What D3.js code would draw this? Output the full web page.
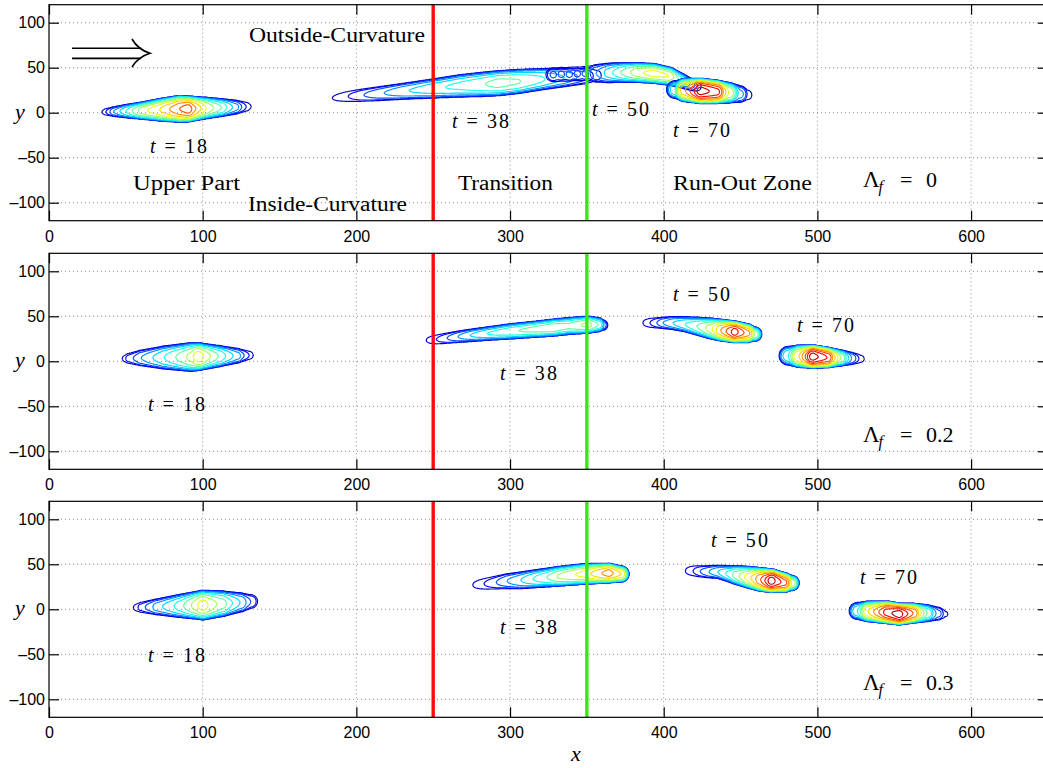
<!DOCTYPE html>
<html><head><meta charset="utf-8">
<script src="https://cdn.jsdelivr.net/npm/d3@7"></script>
<style>body{margin:0;background:#fff} svg{display:block}</style>
</head><body>
<svg id="chart" width="1043" height="768"></svg>
<script>
// ---------- data ----------
const xDomain = [0, 650];
const yDomain = [-120, 120];
const xTickValues = [0, 100, 200, 300, 400, 500, 600];
const yTickValues = [-100, -50, 0, 50, 100];
const sectionLines = [250, 350];
const sectionColors = ["#ff0a0a", "#3ae614"];
const lambdaValues = ["0", "0.2", "0.3"];
const contourLevels = [1,2,3,4,5,6,7,8,9,10,11,12,13,14];
const levelMax = 15;

// blob spines: [x, y, half-width (y units), amplitude]
const p1t18 = [[33,1,2.5,0.5],[37,1.2,4,2],[42,1.5,5.5,4],[50,2,7.5,6],[60,2.5,9.5,8.5],[72,3.5,12.5,10],[85,4.5,15,12],[90,4.5,14.5,12.6],[102,5.5,12,9],[112,6,10,7],[121,6.5,8,4.5],[128,7,5.5,2],[133,7,3,0.5]];
const p1t38 = [[179,15.5,4,0.5],[192.6,18,6,1.8],[202.3,19.5,7,2.8],[215,21.5,8,3.8],[230,24,9,4.8],[252,27.5,11,5.8],[267,30,12.5,6.3],[280,31.5,13.5,6.8],[292,33,14,7.4],[305,35,13.5,7.1],[320,37.5,12,6.2],[335,39.5,10.5,5],[348,41,9,3.5],[356,42,7,1.5],[360,42,5,0.3]];
const p1t50 = [[322,42,5,0.4],[328,42.5,8,3.3],[330.6,42.5,8,2.7],[333.2,43,8,3.3],[335.8,43,8,2.7],[338.4,43,8,3.3],[341,43.5,8,2.7],[343.6,43.5,8,3.3],[346.2,43.5,8,2.7],[348.8,44,8,3.3],[351.4,44,8.5,2.7],[356,44,10,4],[364,44.5,11,5.5],[372,45,11,7],[382,45,11,8.6],[393,44,11,9.5],[403,41,10,9],[411,36,8,6.5],[418,31,6.5,3.5],[424,28,5,1],[426,27,3,0.2]];
const p1t70 = [[407.5,26,10,6],[414,25.5,13,11],[424,24.5,14,14.6],[434,23.5,13,13.5],[442,22.5,11.5,9],[449,21,9.5,4.5],[454,20,7,1.5]];

const p2t18 = [[46,3,3,0.5],[52,3.5,6,2.5],[60,4,9,4],[75,4.5,13,6],[92,5,16,8.3],[97,5.5,15.5,9.6],[110,6,12,7],[122,6.5,8.5,4.5],[130,7,5,2],[134,7,3,0.5]];
const p2t38 = [[242,23,4.5,0.5],[252,24.5,5.5,2],[259,26,6,3],[266,27.5,6.5,4],[274,29,7,5],[285,31,7.5,6],[300,33.5,8.5,6.8],[317,36,9,7.4],[327,37.5,9.5,7.8],[338,39.5,9.5,7.3],[351,41,9.5,8.4],[357,41,8,7],[360,40.5,6,4]];
const p2t50 = [[384,43,4.5,0.5],[391,43,5.5,2],[395.5,43,6,3],[399.5,43,6.5,4],[406,42.8,7.5,5],[414,41.5,8.5,6],[421.6,39.5,10,7],[430,37,11.5,8.5],[437,35,12,11],[446,33,12,13.6],[454,31.5,10.5,11.5],[459,30.5,8,8]];
const p2t70 = [[481,6.5,10.5,6],[488,6,12.5,10],[497,5.5,13,14.6],[506,4.5,11.5,13],[515,4,9,8],[522,3.5,7,4],[528,3,5,1.5]];

const p3t18 = [[53,2,3.5,0.5],[60,2.5,6,2.5],[70,3,9,4.5],[85,4,13,6.5],[100,5,16.5,9.5],[112,6.5,14.5,7.5],[124,8,11,5],[131,9,8,3],[135,9.5,5,1]];
const p3t38 = [[272,26.5,5,0.5],[283,28.5,6.5,2],[291,30,7.5,3],[298,31.5,8.5,4],[307,32.5,9.5,5],[315,34,10,6],[324,35.5,10.5,7],[332,37,11,8.2],[348,39.5,11.5,9.4],[364,40.5,11,11.6],[372,39.5,9,10]];
const p3t50 = [[411.5,43,5,0.5],[419,43,6,2],[423.6,42.5,6.5,3],[429.4,42,7,4],[435.2,42,7.5,5],[442,40,9,6.3],[447,38.5,10.5,7.5],[455,36,12,9.5],[463,33.5,13,12],[470,32,13,14.6],[478,30,11,12.5],[483,29.5,8.5,9]];
const p3t70 = [[526,-1.5,9.5,6],[533,-2,11.5,10],[545,-3,12.5,13.5],[553,-5,12,14.7],[562,-4,11,12],[571,-4,9.5,7],[578,-4.5,7.5,3.5],[583,-5,5,1.2]];

const panelBlobs = [[p1t18,p1t38,p1t50,p1t70],[p2t18,p2t38,p2t50,p2t70],[p3t18,p3t38,p3t50,p3t70]];

// time labels: [value, x, y] (left, baseline)
const timeLabels = [
  [["18",65.7,-44.8],["38",262.2,-17],["50",353.3,-3.7],["70",406,-27]],
  [["18",64.4,-55.6],["38",293.4,-21.1],["50",406,66.7],["70",486.7,32.8]],
  [["18",64.4,-58],["38",293.4,-27.8],["50",430.7,68.9],["70",527.7,27.8]]
];
// region labels (panel 1): [text, x, y, width px]
const regionLabels = [
  ["Outside-Curvature",130.1,78.6,176],
  ["Upper Part",54.7,-85.9,107],
  ["Inside-Curvature",129.5,-108.9,159],
  ["Transition",266.1,-85.9,95],
  ["Run-Out Zone",406,-85.9,139]
];
const lambdaLabelPos = [[529.6,-82.6],[529.6,-90],[529.6,-90]];

// ---------- layout ----------
const svg = d3.select("#chart");
const panelTops = [4.7, 253.3, 501.3];
const panelH = 216;
const x = d3.scaleLinear().domain(xDomain).range([49, 49 + 650*1.5368]);
const P = 0.45;

function jet(t){
  const c = v => Math.max(0, Math.min(1, v));
  const r = c(1.5 - Math.abs(4*t - 3)), g = c(1.5 - Math.abs(4*t - 2)), b = c(1.5 - Math.abs(4*t - 1));
  return d3.rgb(r*255, g*255, b*255).formatHex();
}

function blobContours(nodes, y){
  const ky = Math.abs(y(1) - y(0));
  const pts = nodes.map(n => ({X: x(n[0]), Y: y(n[1]), w: n[2]*ky, a: n[3]}));
  const pad = 3, step = 0.5;
  const x0 = d3.min(pts, p => p.X - p.w) - pad, x1 = d3.max(pts, p => p.X + p.w) + pad;
  const y0 = d3.min(pts, p => p.Y - p.w) - pad, y1 = d3.max(pts, p => p.Y + p.w) + pad;
  const nx = Math.ceil((x1 - x0)/step), ny = Math.ceil((y1 - y0)/step);
  const vals = new Float64Array(nx*ny);
  for (let j = 0; j < ny; j++){
    const Y = y0 + j*step;
    for (let i = 0; i < nx; i++){
      const X = x0 + i*step;
      let v = 0;
      for (let s = 0; s < pts.length - 1; s++){
        const A = pts[s], B = pts[s+1];
        const dx = B.X - A.X, dy = B.Y - A.Y, L2 = dx*dx + dy*dy;
        let t = L2 > 0 ? ((X - A.X)*dx + (Y - A.Y)*dy)/L2 : 0;
        t = t < 0 ? 0 : (t > 1 ? 1 : t);
        const qx = A.X + t*dx - X, qy = A.Y + t*dy - Y;
        const w = A.w + t*(B.w - A.w), a = A.a + t*(B.a - A.a);
        const r = (qx*qx + qy*qy)/(w*w);
        if (r < 1){ const val = a*Math.pow(1 - r, P); if (val > v) v = val; }
      }
      vals[j*nx + i] = v;
    }
  }
  const cs = d3.contours().size([nx, ny]).thresholds(contourLevels)(vals);
  const path = d3.geoPath(d3.geoTransform({point(px, py){ this.stream.point(x0 + px*step, y0 + py*step); }}));
  return cs.filter(c => c.coordinates.length).map(c => ({d: path(c), level: c.value}));
}

const serif = "'Liberation Serif', 'Times New Roman', serif";
const sans = "'Liberation Sans', Arial, sans-serif";

panelTops.forEach((top, pi) => {
  const y = d3.scaleLinear().domain(yDomain).range([top + panelH, top]);
  const g = svg.append("g");
  const x0 = x(xDomain[0]), x1 = x(xDomain[1]);
  const clipId = "clip" + pi;
  g.append("clipPath").attr("id", clipId).append("rect")
    .attr("x", x0).attr("y", top).attr("width", x1 - x0).attr("height", panelH);

  // grid
  g.append("g").selectAll("line").data(xTickValues.filter(v => v > xDomain[0])).join("line")
    .attr("x1", d => x(d)).attr("x2", d => x(d)).attr("y1", top).attr("y2", top + panelH)
    .attr("stroke", "#8a8a8a").attr("stroke-width", 1).attr("stroke-dasharray", "1,3");
  g.append("g").selectAll("line").data(yTickValues).join("line")
    .attr("x1", x0).attr("x2", x1).attr("y1", d => y(d)).attr("y2", d => y(d))
    .attr("stroke", "#8a8a8a").attr("stroke-width", 1).attr("stroke-dasharray", "1,3");

  // contours
  const cg = g.append("g").attr("clip-path", `url(#${clipId})`);
  panelBlobs[pi].forEach(nodes => {
    cg.append("g").selectAll("path").data(blobContours(nodes, y)).join("path")
      .attr("d", d => d.d).attr("fill", "none")
      .attr("stroke", d => jet(d.level/levelMax)).attr("stroke-width", 1.15);
  });

  // section lines
  g.append("g").selectAll("line").data(sectionLines).join("line")
    .attr("x1", d => x(d)).attr("x2", d => x(d)).attr("y1", top).attr("y2", top + panelH)
    .attr("stroke", (d, i) => sectionColors[i]).attr("stroke-width", 3.4);

  // frame
  g.append("rect").attr("x", x0).attr("y", top).attr("width", x1 - x0).attr("height", panelH)
    .attr("fill", "none").attr("stroke", "#000").attr("stroke-width", 1.2);

  // axes (inward ticks on all sides)
  const tk = 10;
  g.append("g").attr("transform", `translate(0,${top + panelH})`)
    .call(d3.axisBottom(x).tickValues(xTickValues).tickSizeInner(-tk).tickSizeOuter(0).tickPadding(9.5))
    .call(a => a.select(".domain").remove())
    .call(a => a.selectAll("text").attr("font-family", sans).attr("font-size", 16).attr("fill", "#000"));
  g.append("g").attr("transform", `translate(0,${top})`)
    .call(d3.axisTop(x).tickValues(xTickValues).tickSizeInner(-tk).tickSizeOuter(0).tickFormat(""))
    .call(a => a.select(".domain").remove());
  g.append("g").attr("transform", `translate(${x0},0)`)
    .call(d3.axisLeft(y).tickValues(yTickValues).tickSizeInner(-tk).tickSizeOuter(0).tickPadding(4)
      .tickFormat(d => (d < 0 ? "\u2013" + Math.abs(d) : String(d))))
    .call(a => a.select(".domain").remove())
    .call(a => a.selectAll("text").attr("font-family", sans).attr("font-size", 16).attr("fill", "#000"));
  g.append("g").attr("transform", `translate(${x1},0)`)
    .call(d3.axisRight(y).tickValues(yTickValues).tickSizeInner(-tk).tickSizeOuter(0).tickFormat(""))
    .call(a => a.select(".domain").remove());
  g.selectAll(".tick line").attr("stroke", "#000").attr("stroke-width", 1.2);

  // y label
  g.append("text").attr("x", 20).attr("y", y(0) + 6).attr("text-anchor", "middle")
    .attr("font-family", serif).attr("font-style", "italic").attr("font-size", 22).text("y");

  // time labels
  timeLabels[pi].forEach(([v, lx, ly]) => {
    const t = g.append("text").attr("x", x(lx)).attr("y", y(ly))
      .attr("font-family", serif).attr("font-size", 20)
      .attr("textLength", 57).attr("lengthAdjust", "spacing");
    t.append("tspan").attr("font-style", "italic").text("t");
    t.append("tspan").text(" = " + v);
  });

  // lambda label
  const [lx, ly] = lambdaLabelPos[pi];
  const bx = x(lx), by = y(ly);
  g.append("text").attr("x", bx).attr("y", by).attr("font-family", serif).attr("font-size", 23).text("\u039B");
  g.append("text").attr("x", bx + 15.5).attr("y", by + 5).attr("font-family", serif).attr("font-style", "italic").attr("font-size", 16).text("f");
  g.append("text").attr("x", bx + 37).attr("y", by).attr("font-family", serif).attr("font-size", 22).text("=");
  g.append("text").attr("x", bx + 63).attr("y", by).attr("font-family", serif).attr("font-size", 22).text(lambdaValues[pi]);

  if (pi === 0){
    regionLabels.forEach(([txt, rx, ry, wpx]) => {
      g.append("text").attr("x", x(rx)).attr("y", y(ry)).attr("font-family", serif).attr("font-size", 20)
        .attr("textLength", wpx).attr("lengthAdjust", "spacingAndGlyphs").text(txt);
    });
    // double arrow
    const ag = g.append("g").attr("stroke", "#000").attr("stroke-width", 1.6).attr("fill", "none");
    ag.append("line").attr("x1", x(15)).attr("x2", x(60)).attr("y1", y(71.6)).attr("y2", y(71.6));
    ag.append("line").attr("x1", x(15)).attr("x2", x(60)).attr("y1", y(60.4)).attr("y2", y(60.4));
    ag.append("path").attr("d",
      `M${x(54)},${y(81.9)} Q${x(58)},${y(70)} ${x(65.7)},${y(66.1)} Q${x(58)},${y(62)} ${x(54)},${y(50.8)}`);
  }
});

svg.append("text").attr("x", 576).attr("y", 761).attr("text-anchor", "middle")
  .attr("font-family", serif).attr("font-style", "italic").attr("font-size", 22).text("x");
</script>
</body></html>
